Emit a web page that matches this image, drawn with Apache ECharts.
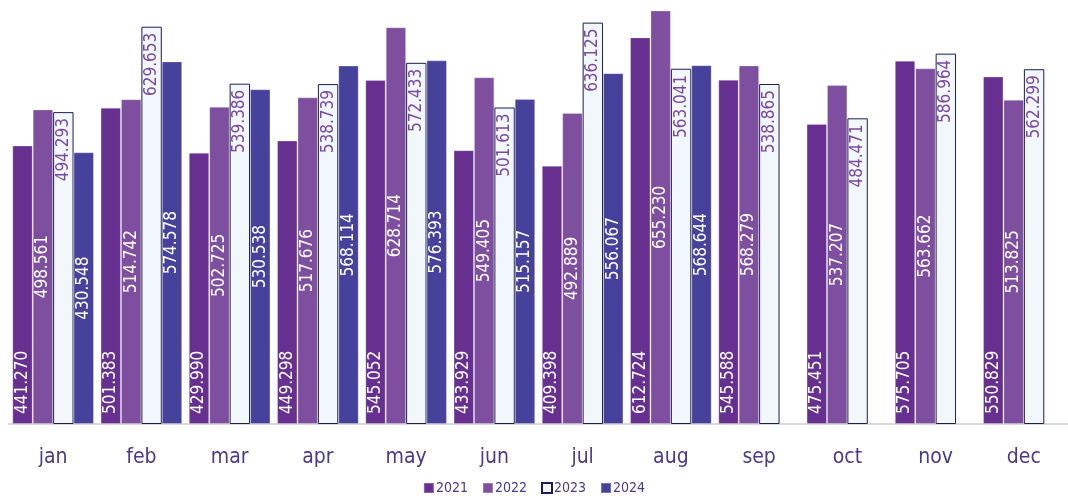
<!DOCTYPE html>
<html>
<head>
<meta charset="utf-8">
<script src="https://cdn.jsdelivr.net/npm/echarts@6/dist/echarts.min.js"></script>
<style>
  html, body { margin: 0; padding: 0; background: #fff; }
  #chart { width: 1068px; height: 498px; }
</style>
</head>
<body>
<div id="chart"></div>
<script>
  // months
  var months = ['jan', 'feb', 'mar', 'apr', 'may', 'jun', 'jul', 'aug', 'sep', 'oct', 'nov', 'dec'];
  // values per year
  var y2021 = [441.270, 501.383, 429.990, 449.298, 545.052, 433.929, 409.398, 612.724, 545.588, 475.451, 575.705, 550.829];
  var y2022 = [498.561, 514.742, 502.725, 517.676, 628.714, 549.405, 492.889, 655.230, 568.279, 537.207, 563.662, 513.825];
  var y2023 = [494.293, 629.653, 539.386, 538.739, 572.433, 501.613, 636.125, 563.041, 538.865, 484.471, 586.964, 562.299];
  var y2024 = [430.548, 574.578, 530.538, 568.114, 576.393, 515.157, 556.067, 568.644, null, null, null, null];

  var font = '"DejaVu Sans Condensed", "Liberation Sans Narrow", sans-serif';

  // 标签格式
  function fmt(p) {
    return p.value.toFixed(3);
  }

  function lbl(pos, align, color, dist) {
    return {
      show: true,
      position: pos,
      rotate: 90,
      align: align,
      verticalAlign: 'middle',
      distance: dist,
      color: color,
      fontFamily: font,
      fontSize: 17,
      formatter: fmt
    };
  }

  var option = {
    animation: false,
    grid: { left: 9, right: -4, top: 0, bottom: 74 },
    legend: {
      bottom: -2,
      left: 'center',
      itemWidth: 10,
      itemHeight: 10,
      itemGap: 14,
      icon: 'rect',
      textStyle: { color: '#4b3a8a', fontFamily: font, fontSize: 14, padding: [0, 0, 0, -3] },
      data: ['2021', '2022', '2023', '2024']
    },
    xAxis: {
      type: 'category',
      data: months,
      axisTick: { show: false },
      axisLine: { lineStyle: { color: '#d9d9d9', width: 2 } },
      axisLabel: { color: '#4b3a8a', fontFamily: font, fontSize: 21, margin: 23 }
    },
    yAxis: {
      type: 'value',
      min: 0,
      max: 672,
      show: false,
      splitLine: { show: false }
    },
    series: [
      {
        name: '2021', type: 'bar', data: y2021, barGap: '0%', barCategoryGap: '7.5%',
        itemStyle: { color: '#673090', borderColor: 'rgba(255,255,255,0.25)', borderWidth: 1 },
        label: lbl('insideBottom', 'left', '#ffffff', 10)
      },
      {
        name: '2022', type: 'bar', data: y2022,
        itemStyle: { color: '#7f4f9f', borderColor: 'rgba(255,255,255,0.25)', borderWidth: 1 },
        label: lbl('inside', 'center', '#ffffff', 0)
      },
      {
        name: '2023', type: 'bar', data: y2023,
        itemStyle: { color: '#f2f7fc', borderColor: '#1e1e4e', borderWidth: 1 },
        label: lbl('insideTop', 'right', '#7a4aa0', 6)
      },
      {
        name: '2024', type: 'bar', data: y2024,
        itemStyle: { color: '#46419a', borderColor: 'rgba(255,255,255,0.25)', borderWidth: 1 },
        label: lbl('inside', 'center', '#ffffff', 0)
      }
    ]
  };

  var myChart = echarts.init(document.getElementById('chart'));
  myChart.setOption(option);
</script>
</body>
</html>
